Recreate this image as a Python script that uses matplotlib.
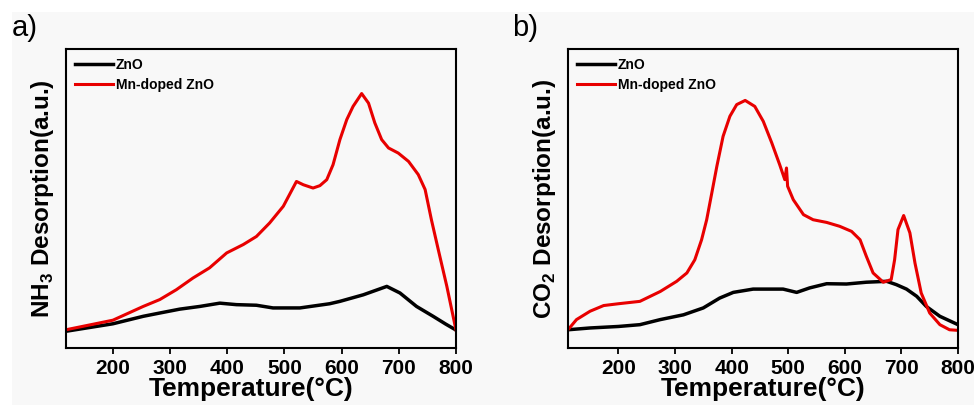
import matplotlib
matplotlib.use("Agg")
import matplotlib.pyplot as plt
from matplotlib.patches import Rectangle

plt.rcParams['font.family'] = ['Liberation Sans', 'DejaVu Sans']
plt.rcParams['mathtext.fontset'] = 'custom'
plt.rcParams['mathtext.rm'] = 'Liberation Sans:bold'
plt.rcParams['mathtext.bf'] = 'Liberation Sans:bold'

# ---- Data (a) NH3-TPD ----
nh3_zno_T = [118, 200, 253, 282, 317, 352, 387, 416, 451, 480, 527, 579, 597, 638, 679, 702, 731, 760, 782, 800]
nh3_zno_y = [5.6, 8.1, 10.6, 11.7, 13.0, 13.9, 15.0, 14.5, 14.3, 13.4, 13.4, 14.8, 15.6, 17.8, 20.6, 18.4, 13.9, 10.6, 8.0, 6.0]

nh3_mn_T = [118, 200, 253, 282, 311, 340, 369, 399, 428, 451, 474, 498, 521, 533, 550, 562, 574, 585, 597, 609,
            620, 635, 647, 658, 670, 682, 699, 717, 734, 746, 757, 769, 784, 800]
nh3_mn_y = [6.1, 9.3, 13.9, 16.2, 19.5, 23.4, 26.8, 31.8, 34.6, 37.3, 41.8, 47.4, 55.7, 54.6, 53.5, 54.3, 56.3, 61.3, 69.7, 76.4,
            80.8, 85.1, 81.9, 75.3, 69.7, 66.9, 65.2, 62.4, 58.0, 53.0, 42.9, 32.9, 20.6, 6.0]

# ---- Data (b) CO2-TPD ----
co2_zno_T = [111, 150, 200, 238, 274, 315, 350, 379, 403, 438, 491, 515, 538, 568, 603, 638, 674, 691, 709, 727, 744, 768, 800]
co2_zno_y = [6.1, 6.7, 7.2, 7.8, 9.5, 11.1, 13.4, 16.7, 18.6, 19.7, 19.7, 18.6, 20.1, 21.5, 21.4, 22.0, 22.3, 21.2, 19.7, 17.3, 13.9, 10.6, 7.8]

co2_mn_T = [111, 126, 150, 174, 200, 238, 274, 303, 321, 335, 347, 356, 365, 374, 385, 397, 409, 424, 441, 456, 471, 485,
            494, 497, 499, 509, 527, 544, 568, 591, 612, 627, 638, 650, 668, 682, 688, 694, 704, 715, 724, 735, 750, 768, 785, 800]
co2_mn_y = [6.1, 9.5, 12.3, 14.2, 14.8, 15.6, 18.9, 22.3, 25.1, 29.5, 36.2, 42.9, 51.8, 60.8, 70.8, 77.5, 81.4, 82.8, 80.8, 75.8, 68.6, 61.3,
            56.3, 60.2, 54.1, 49.6, 44.6, 42.9, 42.0, 40.7, 39.0, 36.2, 30.7, 25.1, 22.0, 22.9, 29.5, 39.6, 44.3, 38.5, 28.4, 18.4, 11.7, 7.8, 6.1, 5.9]

xticks = [200, 300, 400, 500, 600, 700, 800]
series_labels = ['ZnO', 'Mn-doped ZnO']
ylabels = ['NH$_3$ Desorption(a.u.)', 'CO$_2$ Desorption(a.u.)']
panel_labels = ['a)', 'b)']

BG = '#f8f8f8'
fig = plt.figure(figsize=(9.76, 4.05), dpi=100)
fig.patch.set_facecolor('white')
fig.add_artist(Rectangle((12/976, 0), (974-12)/976, (405-12)/405,
                         transform=fig.transFigure, facecolor=BG, edgecolor='none', zorder=-10))

axA = fig.add_axes([66/976, 57/405, 390/976, 299/405])
axB = fig.add_axes([568/976, 57/405, 390/976, 299/405])

panels = [
    (axA, nh3_zno_T, nh3_zno_y, nh3_mn_T, nh3_mn_y, 118, 0.474),
    (axB, co2_zno_T, co2_zno_y, co2_mn_T, co2_mn_y, 111, 0.5),
]

for i, (ax, t0, y0, t1, y1, xmin, xlab_x) in enumerate(panels):
    ax.set_facecolor(BG)
    ax.plot(t0, y0, color='black', lw=2.5, label=series_labels[0], solid_joinstyle='round')
    ax.plot(t1, y1, color='#e80000', lw=2.2, label=series_labels[1], solid_joinstyle='round')
    ax.set_xlim(xmin, 800)
    ax.set_ylim(0, 100)
    ax.set_xticks(xticks)
    ax.set_yticks([])
    ax.tick_params(axis='x', direction='out', length=4, width=1.3, pad=4, labelsize=15)
    for lab in ax.get_xticklabels():
        lab.set_fontweight('bold')
    for s in ax.spines.values():
        s.set_linewidth(1.5)
    ax.set_xlabel('Temperature(°C)', fontsize=19, fontweight='bold', labelpad=-1, x=xlab_x)
    ax.set_ylabel(ylabels[i], fontsize=17.5, fontweight='bold', labelpad=7)
    ax.legend(loc='upper left', frameon=False,
              prop={'weight': 'bold', 'size': 10}, handlelength=2.7,
              handletextpad=0.25, borderaxespad=0.35, borderpad=0.3, labelspacing=0.45)

fig.text(12/976, 1 - 14/405, panel_labels[0], fontsize=21, va='top', ha='left')
fig.text(512/976, 1 - 14/405, panel_labels[1], fontsize=21, va='top', ha='left')

fig.savefig('out.png', dpi=100, facecolor='white')
